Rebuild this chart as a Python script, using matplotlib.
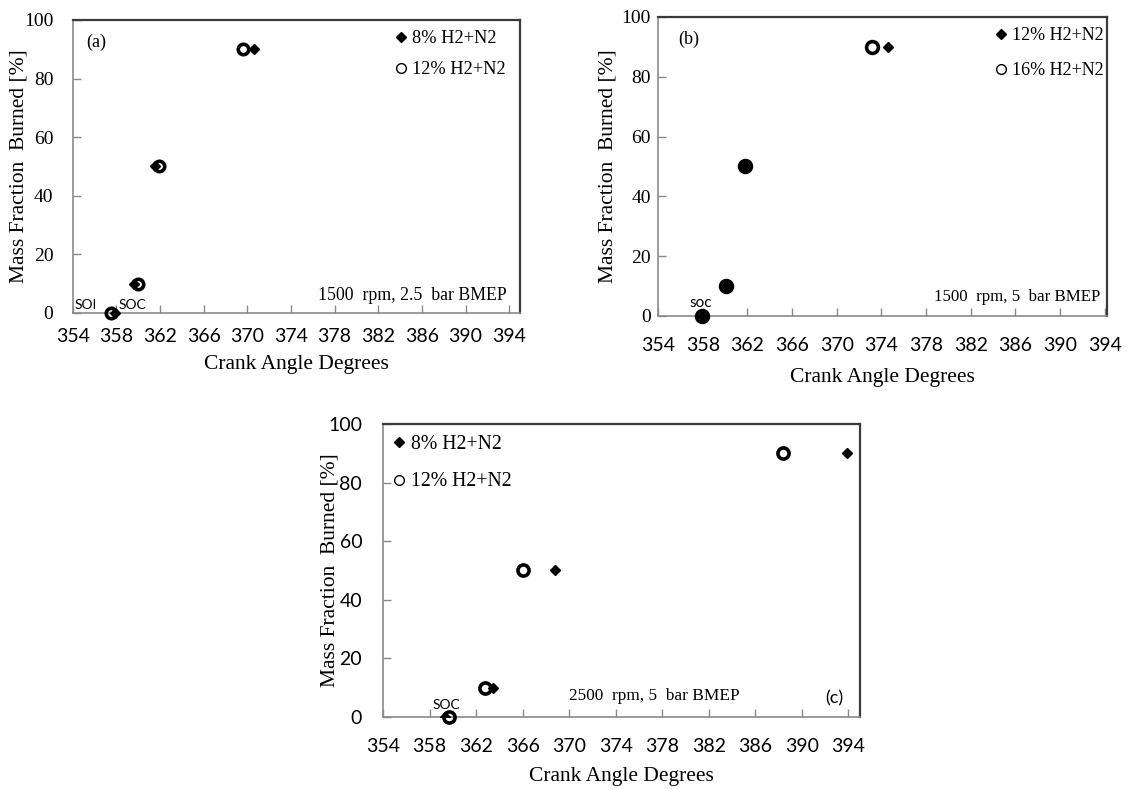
import matplotlib
matplotlib.use("Agg")
import matplotlib.pyplot as plt

# ---- data ----
mfb = [0, 10, 50, 90]
xticks = [354, 358, 362, 366, 370, 374, 378, 382, 386, 390, 394]
yticks = [0, 20, 40, 60, 80, 100]

a_8 = [357.9, 359.6, 361.5, 370.6]
a_12 = [357.5, 360.0, 361.95, 369.6]
b_12 = [357.9, 360.1, 361.8, 374.6]
b_16 = [357.9, 360.1, 361.8, 373.2]
c_8 = [359.3, 363.45, 368.8, 393.9]
c_12 = [359.7, 362.8, 366.05, 388.4]

SERIF = ["Liberation Serif", "DejaVu Serif"]
SANS = ["Lato", "DejaVu Sans"]

fig = plt.figure(figsize=(11.44, 7.89), dpi=100)

def style(ax, xmax, xtick_font, ytick_font, xpad, ypad, ylab_x, xlab_y):
    ax.set_xlim(354, xmax)
    ax.set_ylim(0, 100)
    ax.set_xticks(xticks)
    ax.set_yticks(yticks)
    ax.tick_params(direction="in", length=6, width=1, color="#888888")
    ax.tick_params(axis="x", pad=xpad)
    ax.tick_params(axis="y", pad=ypad)
    for lab in ax.get_xticklabels():
        lab.set_fontfamily(xtick_font)
        lab.set_fontsize(14)
    for lab in ax.get_yticklabels():
        lab.set_fontfamily(ytick_font)
        lab.set_fontsize(14)
    for s in ["left", "bottom"]:
        ax.spines[s].set_color("#8a8a8a")
        ax.spines[s].set_linewidth(1.2)
    for s in ["top", "right"]:
        ax.spines[s].set_color("#3a3a3a")
        ax.spines[s].set_linewidth(1.6)
    ax.set_xlabel("Crank Angle Degrees", fontfamily=SERIF, fontsize=15.5)
    ax.set_ylabel("Mass Fraction  Burned [%]", fontfamily=SERIF, fontsize=15.5)
    ax.yaxis.set_label_coords(ylab_x, 0.5)
    ax.xaxis.set_label_coords(0.5, xlab_y)

def plot_pair(ax, x_d, x_c, lab_d, lab_c, csize=8, clip=False):
    ax.plot(x_d, mfb, linestyle="none", marker="D", markersize=5.5, color="black",
            label=lab_d, clip_on=clip, zorder=3)
    ax.plot(x_c, mfb, linestyle="none", marker="o", markersize=csize, markerfacecolor="none",
            markeredgecolor="black", markeredgewidth=2.6, label=lab_c, clip_on=False, zorder=4)

def legend(ax, anchor, size, spacing):
    handles = [
        plt.Line2D([], [], linestyle="none", marker="D", markersize=5, color="black"),
        plt.Line2D([], [], linestyle="none", marker="o", markersize=7,
                   markerfacecolor="none", markeredgecolor="black", markeredgewidth=1),
    ]
    labels = ax.get_legend_handles_labels()[1]
    ax.legend(handles, labels, loc="upper left", bbox_to_anchor=anchor, frameon=False,
              handlelength=0.6, handletextpad=0.3, labelspacing=spacing,
              prop={"family": SERIF, "size": size}, borderaxespad=0)

# ---- panel (a) ----
ax_a = fig.add_axes([0.0636, 0.6033, 0.391, 0.3714])
plot_pair(ax_a, a_8, a_12, "8% H2+N2", "12% H2+N2", csize=7.5)
style(ax_a, 395, SANS, SERIF, xpad=11, ypad=14, ylab_x=-0.098, xlab_y=-0.143)
legend(ax_a, (0.705, 0.99), 13.2, 0.75)
ax_a.text(0.03, 0.925, "(a)", transform=ax_a.transAxes, fontfamily=SERIF, fontsize=13,
          ha="left", va="center")
ax_a.text(0.97, 0.06, "1500  rpm, 2.5  bar BMEP", transform=ax_a.transAxes,
          fontfamily=SERIF, fontsize=12.8, ha="right", va="center")
ax_a.text(0.005, 0.028, "SOI", transform=ax_a.transAxes, fontfamily=SANS, fontsize=10,
          ha="left", va="center")
ax_a.text(0.103, 0.028, "SOC", transform=ax_a.transAxes, fontfamily=SANS, fontsize=10,
          ha="left", va="center")

# ---- panel (b) ----
ax_b = fig.add_axes([0.5752, 0.5995, 0.3925, 0.379])
plot_pair(ax_b, b_12, b_16, "12% H2+N2", "16% H2+N2", csize=8.5)
style(ax_b, 394.2, SANS, SERIF, xpad=15, ypad=5, ylab_x=-0.091, xlab_y=-0.174)
legend(ax_b, (0.735, 0.99), 13.0, 1.0)
ax_b.text(0.045, 0.925, "(b)", transform=ax_b.transAxes, fontfamily=SERIF, fontsize=13,
          ha="left", va="center")
ax_b.text(0.985, 0.065, "1500  rpm, 5  bar BMEP", transform=ax_b.transAxes,
          fontfamily=SERIF, fontsize=12.2, ha="right", va="center")
ax_b.text(0.094, 0.043, "soc", transform=ax_b.transAxes, fontfamily=SANS, fontsize=11,
          ha="center", va="center")

# ---- panel (c) ----
ax_c = fig.add_axes([0.3348, 0.0913, 0.417, 0.3714])
plot_pair(ax_c, c_8, c_12, "8% H2+N2", "12% H2+N2", csize=8, clip=True)
style(ax_c, 395, SANS, SANS, xpad=15, ypad=15, ylab_x=-0.092, xlab_y=-0.171)
legend(ax_c, (0.005, 0.99), 14.2, 0.95)
ax_c.text(0.965, 0.065, "(c)", transform=ax_c.transAxes, fontfamily=SANS, fontsize=13,
          ha="right", va="center")
ax_c.text(0.39, 0.07, "2500  rpm, 5  bar BMEP", transform=ax_c.transAxes,
          fontfamily=SERIF, fontsize=12.4, ha="left", va="center")
ax_c.text(0.133, 0.041, "SOC", transform=ax_c.transAxes, fontfamily=SANS, fontsize=10,
          ha="center", va="center")

fig.savefig("out.png", dpi=100)
